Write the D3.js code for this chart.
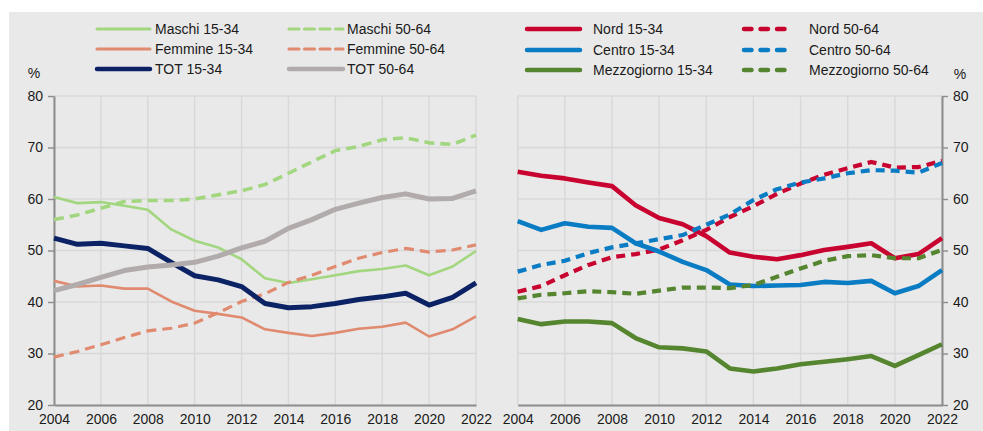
<!DOCTYPE html>
<html>
<head>
<meta charset="utf-8">
<script src="https://cdn.jsdelivr.net/npm/d3@7"></script>
<style>
  html, body { margin: 0; padding: 0; background: #fff; }
  svg { display: block; font-family: "Liberation Sans", Arial, sans-serif; }
</style>
</head>
<body>
<svg id="chart" width="983" height="431"></svg>
<script>
// Tasso di occupazione per sesso, area e classe di età (%)
const years = d3.range(2004, 2023);
const yTicks = [20, 30, 40, 50, 60, 70, 80];
const xTicks = d3.range(2004, 2023, 2);

// Pannello sinistro: per sesso
const maschi1534  = [60.4, 59.2, 59.4, 58.7, 57.9, 54.1, 51.9, 50.6, 48.3, 44.6, 43.7, 44.4, 45.2, 46.0, 46.4, 47.1, 45.2, 46.9, 49.9];
const maschi5064  = [56.0, 56.9, 58.2, 59.5, 59.7, 59.7, 60.0, 60.8, 61.6, 62.8, 65.0, 67.2, 69.4, 70.2, 71.5, 71.9, 70.9, 70.6, 72.4];
const femmine1534 = [44.1, 43.0, 43.2, 42.6, 42.6, 40.1, 38.3, 37.7, 37.0, 34.7, 34.0, 33.4, 34.0, 34.8, 35.2, 36.0, 33.3, 34.7, 37.2];
const femmine5064 = [29.3, 30.4, 31.7, 33.1, 34.4, 34.9, 35.9, 37.9, 40.1, 41.6, 43.8, 45.2, 46.9, 48.5, 49.6, 50.4, 49.7, 50.1, 51.1];
const tot1534     = [52.4, 51.2, 51.4, 50.9, 50.4, 47.7, 45.1, 44.3, 43.0, 39.7, 38.9, 39.1, 39.7, 40.5, 41.0, 41.7, 39.4, 40.9, 43.7];
const tot5064     = [42.2, 43.4, 44.8, 46.1, 46.8, 47.2, 47.7, 48.9, 50.5, 51.8, 54.3, 56.0, 58.0, 59.2, 60.3, 61.0, 60.0, 60.1, 61.6];

// Pannello destro: per ripartizione
const nord1534   = [65.3, 64.5, 64.0, 63.2, 62.5, 58.8, 56.3, 55.1, 52.8, 49.6, 48.8, 48.3, 49.1, 50.1, 50.7, 51.4, 48.5, 49.3, 52.4];
const nord5064   = [42.0, 43.1, 45.2, 47.2, 48.7, 49.3, 50.2, 52.0, 54.0, 56.5, 58.6, 61.0, 63.0, 64.7, 66.0, 67.2, 66.1, 66.2, 67.4];
const centro1534 = [55.7, 54.0, 55.3, 54.6, 54.4, 51.4, 49.8, 47.8, 46.2, 43.4, 43.1, 43.2, 43.3, 43.9, 43.7, 44.1, 41.7, 43.1, 46.2];
const centro5064 = [45.9, 47.2, 48.0, 49.5, 50.6, 51.4, 52.2, 53.0, 55.0, 57.0, 59.8, 61.9, 63.2, 64.0, 65.0, 65.6, 65.5, 65.1, 67.0];
const mezzo1534  = [36.7, 35.7, 36.2, 36.2, 35.9, 33.0, 31.2, 31.0, 30.4, 27.1, 26.5, 27.1, 27.9, 28.4, 28.9, 29.5, 27.6, 29.7, 31.8];
const mezzo5064  = [40.7, 41.4, 41.7, 42.1, 41.9, 41.6, 42.2, 42.8, 42.8, 42.7, 43.3, 44.9, 46.5, 48.0, 48.9, 49.1, 48.5, 48.5, 50.1];

const leftSeries = [
  { name: "Maschi 15-34",  values: maschi1534,  color: "#a2d67f", width: 2.6, dash: null },
  { name: "Maschi 50-64",  values: maschi5064,  color: "#a2d67f", width: 3.6, dash: "10,6" },
  { name: "Femmine 15-34", values: femmine1534, color: "#e08a70", width: 2.6, dash: null },
  { name: "Femmine 50-64", values: femmine5064, color: "#e08a70", width: 3.2, dash: "10,6" },
  { name: "TOT 15-34",     values: tot1534,     color: "#0b2265", width: 5,   dash: null },
  { name: "TOT 50-64",     values: tot5064,     color: "#b1abab", width: 5,   dash: null }
];
const rightSeries = [
  { name: "Nord 15-34",         values: nord1534,   color: "#c8032f", width: 4.6, dash: null },
  { name: "Nord 50-64",         values: nord5064,   color: "#c8032f", width: 4.2, dash: "9,6" },
  { name: "Centro 15-34",       values: centro1534, color: "#0a7cc4", width: 4.6, dash: null },
  { name: "Centro 50-64",       values: centro5064, color: "#0a7cc4", width: 4.2, dash: "9,6" },
  { name: "Mezzogiorno 15-34",  values: mezzo1534,  color: "#568530", width: 4.6, dash: null },
  { name: "Mezzogiorno 50-64",  values: mezzo5064,  color: "#568530", width: 4.2, dash: "9,6" }
];

const svg = d3.select("#chart");
const W = 983, H = 431;

// sfondo grigio
svg.append("rect").attr("x", 9).attr("y", 12).attr("width", W - 9).attr("height", H - 12).attr("fill", "#e9e9e9");

const y = d3.scaleLinear().domain([20, 80]).range([405, 96]);
const xL = d3.scaleLinear().domain([2004, 2022]).range([54, 476]);
const xR = d3.scaleLinear().domain([2004, 2022]).range([517.7, 942]);

const gridColor = "#d8d8d8";
const axisColor = "#8c8c8c";
const textColor = "#1a1a1a";
const fontSize = 14;

function panel(x, series, side) {
  const g = svg.append("g");
  const [x0, x1] = x.range();

  // griglia orizzontale
  g.append("g").selectAll("line").data(yTicks.filter(t => t > 20)).join("line")
    .attr("x1", x0).attr("x2", x1).attr("y1", d => y(d)).attr("y2", d => y(d))
    .attr("stroke", gridColor).attr("stroke-width", 1.4);
  // griglia verticale
  g.append("g").selectAll("line").data(xTicks).join("line")
    .attr("x1", d => x(d)).attr("x2", d => x(d)).attr("y1", y(80)).attr("y2", y(20))
    .attr("stroke", gridColor).attr("stroke-width", 1.4);

  // asse x
  const xAxis = d3.axisBottom(x).tickValues(xTicks).tickFormat(d3.format("d")).tickSize(0).tickPadding(9);
  const gx = g.append("g").attr("transform", `translate(0,${y(20)})`).call(xAxis);
  gx.select(".domain").attr("stroke", axisColor).attr("stroke-width", 2);
  gx.selectAll("text").attr("font-size", fontSize).attr("fill", textColor)
    .attr("font-family", "'Liberation Sans', Arial, sans-serif")
    .attr("textLength", 31).attr("lengthAdjust", "spacingAndGlyphs");

  // asse y
  const yAxis = (side === "left" ? d3.axisLeft(y) : d3.axisRight(y))
    .tickValues(yTicks).tickSize(6).tickSizeOuter(0).tickPadding(5);
  const gy = g.append("g").attr("transform", `translate(${side === "left" ? x0 : x1},0)`).call(yAxis);
  gy.select(".domain").attr("stroke", axisColor).attr("stroke-width", 2);
  gy.selectAll(".tick line").attr("stroke", axisColor).attr("stroke-width", 1.4);
  gy.selectAll("text").attr("font-size", fontSize).attr("fill", textColor)
    .attr("font-family", "'Liberation Sans', Arial, sans-serif");

  // serie
  const line = d3.line().x((d, i) => x(years[i])).y(d => y(d));
  g.append("g").selectAll("path").data(series).join("path")
    .attr("d", d => line(d.values))
    .attr("fill", "none")
    .attr("stroke", d => d.color)
    .attr("stroke-width", d => d.width)
    .attr("stroke-dasharray", d => d.dash)
    .attr("stroke-linejoin", "round");
}

panel(xL, leftSeries, "left");
panel(xR, rightSeries, "right");

// unità di misura
svg.append("text").attr("x", 34).attr("y", 78).attr("text-anchor", "middle")
  .attr("font-size", fontSize).attr("fill", textColor).text("%");
svg.append("text").attr("x", 960).attr("y", 79).attr("text-anchor", "middle")
  .attr("font-size", fontSize).attr("fill", textColor).text("%");

// legende
function legend(series, cols, rows, strokeW, dashPattern) {
  const g = svg.append("g");
  series.forEach((d, i) => {
    const col = cols[i % 2], row = rows[Math.floor(i / 2)];
    g.append("line").attr("x1", col.x1).attr("x2", col.x2).attr("y1", row).attr("y2", row)
      .attr("stroke", d.color).attr("stroke-width", strokeW(d))
      .attr("stroke-dasharray", d.dash ? dashPattern : null).attr("stroke-linecap", "round");
    g.append("text").attr("x", col.tx).attr("y", row + 5).attr("font-size", fontSize)
      .attr("fill", textColor).text(d.name);
  });
}
legend(leftSeries,
  [{ x1: 97, x2: 150, tx: 155 }, { x1: 289, x2: 343, tx: 347 }],
  [29, 49, 69],
  d => d.dash ? 3.2 : (d.width >= 5 ? 4.5 : 3),
  "10,5.5");
legend(rightSeries,
  [{ x1: 527, x2: 580, tx: 593 }, { x1: 744, x2: 791, tx: 809 }],
  [29, 50, 70],
  () => 4.5,
  "7.5,9");
</script>
</body>
</html>
